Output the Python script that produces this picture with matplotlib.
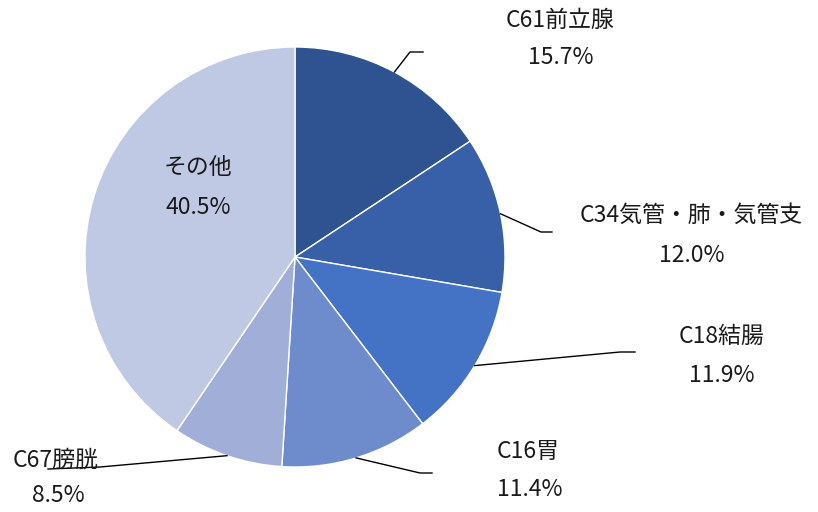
import numpy as np
import matplotlib
matplotlib.use('Agg')
import matplotlib.pyplot as plt

plt.rcParams['font.family'] = ['Noto Sans CJK JP', 'DejaVu Sans']

# データ
labels = ['C61前立腺', 'C34気管・肺・気管支', 'C18結腸', 'C16胃', 'C67膀胱', 'その他']
values = [15.7, 12.0, 11.9, 11.4, 8.5, 40.5]
colors = ['#2F5290', '#3760A8', '#4472C4', '#6E8BCC', '#A0AED8', '#C0C9E4']

# ラベル配置 (ピクセル座標: 名前の中心, 割合の中心, 折れ点, 終点)
W, H = 818, 512
cx, cy, R = 295, 257, 210
layout = {
    'C61前立腺': ((560, 20), (561, 57), (410, 52), (423, 52)),
    'C34気管・肺・気管支': ((691, 215), (692, 255), (541, 232), (552, 232)),
    'C18結腸': ((722, 336), (722, 375), (620, 352), (635, 352)),
    'C16胃': ((528, 452), (530, 490), (420, 473), (432, 473)),
    'C67膀胱': ((56, 460), (58, 495), (100, 467), (48, 469)),
    'その他': ((198, 168), (198, 208), None, None),
}

fig = plt.figure(figsize=(W / 100, H / 100), dpi=100)
ax = fig.add_axes([0, 0, 1, 1])
ax.axis('off')

wedges, _ = ax.pie(values, colors=colors, startangle=90, counterclock=False,
                   radius=R, center=(cx, H - cy),
                   wedgeprops=dict(edgecolor='white', linewidth=1))
ax.set_xlim(0, W)
ax.set_ylim(0, H)
ax.set_aspect('equal')

for w, lab, v in zip(wedges, labels, values):
    name_pos, pct_pos, elbow, end = layout[lab]
    ax.text(name_pos[0], H - name_pos[1], lab, ha='center', va='center',
            fontsize=16.5, color='#1a1a1a')
    ax.text(pct_pos[0], H - pct_pos[1], f'{v:.1f}%', ha='center', va='center',
            fontsize=16.5, color='#1a1a1a')
    if elbow is not None:
        ang = np.deg2rad((w.theta1 + w.theta2) / 2)
        ex = cx + R * np.cos(ang)
        ey = (H - cy) + R * np.sin(ang)
        ax.plot([ex, elbow[0], end[0]], [ey, H - elbow[1], H - end[1]],
                color='black', linewidth=1)

fig.savefig('out.png', dpi=100)
